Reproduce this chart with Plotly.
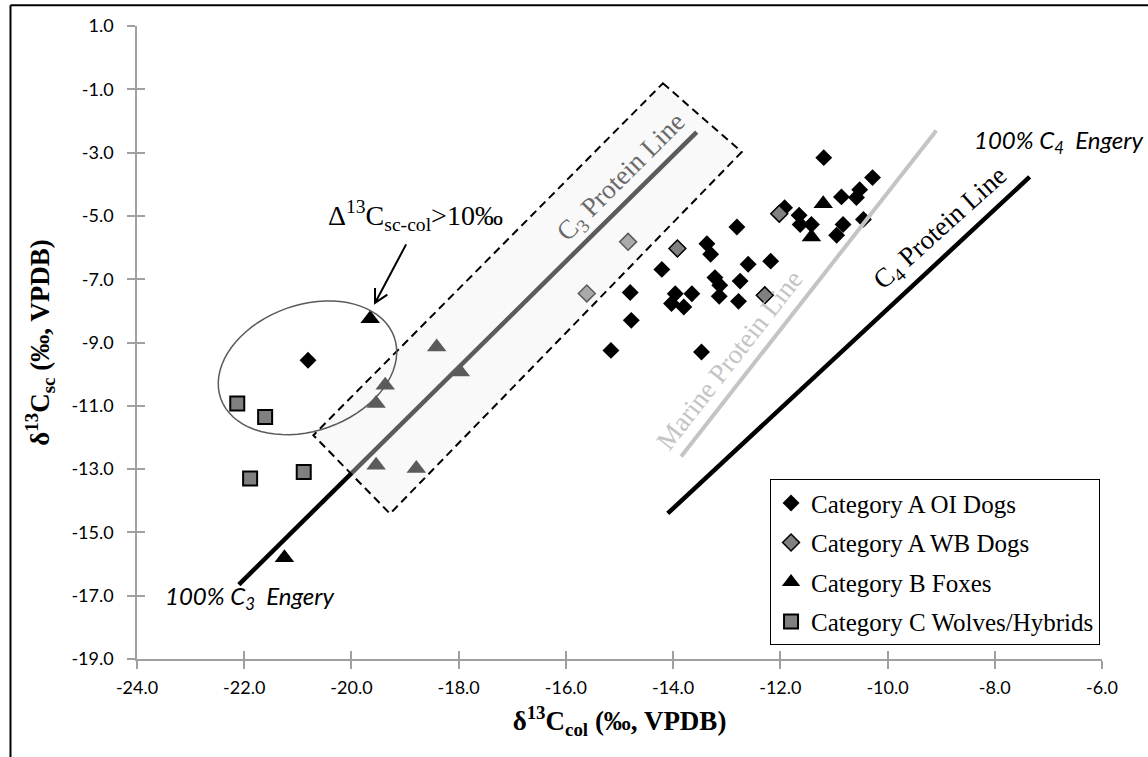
import numpy as np
import plotly.graph_objects as go

# ---------------- data ----------------
oi_x = [-11.19, -10.28, -10.52, -10.86, -10.58, -11.92, -11.65, -11.63, -11.42, -10.83, -10.95, -10.45,
        -12.81, -13.37, -13.30, -14.21, -12.60, -12.18, -13.22, -12.75, -13.13, -13.14, -12.78,
        -14.80, -13.96, -13.65, -14.03, -13.80, -14.78, -15.16, -13.47, -20.81]
oi_y = [-3.16, -3.79, -4.17, -4.40, -4.42, -4.74, -4.98, -5.27, -5.27, -5.27, -5.61, -5.11,
        -5.35, -5.88, -6.21, -6.69, -6.53, -6.43, -6.95, -7.06, -7.19, -7.54, -7.70,
        -7.42, -7.46, -7.46, -7.77, -7.88, -8.30, -9.25, -9.30, -9.56]

wb_x = [-14.84, -13.92, -15.61, -12.29, -12.02]
wb_y = [-5.82, -6.03, -7.45, -7.51, -4.93]

fox_x = [-19.65, -18.41, -17.97, -19.37, -19.54, -19.54, -18.79, -21.25, -11.20, -11.42]
fox_y = [-8.25, -9.14, -9.93, -10.35, -10.93, -12.88, -12.98, -15.80, -4.62, -5.67]

wolf_x = [-22.13, -21.61, -21.89, -20.89]
wolf_y = [-10.93, -11.35, -13.30, -13.09]

series_names = ["Category A OI Dogs", "Category A WB Dogs", "Category B Foxes", "Category C Wolves/Hybrids"]

c3_line_x = [-22.10, -13.56]
c3_line_y = [-16.65, -2.35]
marine_line_x = [-13.85, -9.09]
marine_line_y = [-12.60, -2.30]
c4_line_x = [-14.10, -7.35]
c4_line_y = [-14.40, -3.77]

x_ticks = [-24, -22, -20, -18, -16, -14, -12, -10, -8, -6]
x_tick_text = ["-24.0", "-22.0", "-20.0", "-18.0", "-16.0", "-14.0", "-12.0", "-10.0", "-8.0", "-6.0"]
y_ticks = [1, -1, -3, -5, -7, -9, -11, -13, -15, -17, -19]
y_tick_text = ["1.0", "-1.0", "-3.0", "-5.0", "-7.0", "-9.0", "-11.0", "-13.0", "-15.0", "-17.0", "-19.0"]

# ---------------- figure ----------------
SERIF = "Liberation Serif, Times New Roman, serif"
SANS = "Lato, Carlito, sans-serif"
AXIS_GRAY = "#a0a0a0"
fig = go.Figure()

fig.add_trace(go.Scatter(x=oi_x, y=oi_y, mode="markers", name=series_names[0], legendgroup="a",
                         marker=dict(symbol="diamond", size=13, color="black", line=dict(width=0))))
fig.add_trace(go.Scatter(x=wb_x, y=wb_y, mode="markers", name=series_names[1], legendgroup="b",
                         marker=dict(symbol="diamond", size=13, color="#808080", line=dict(width=1.5, color="black"))))
fig.add_trace(go.Scatter(x=fox_x, y=fox_y, mode="markers", name=series_names[2], legendgroup="c",
                         marker=dict(symbol="triangle-up", size=17, color="black", line=dict(width=0))))
fig.add_trace(go.Scatter(x=wolf_x, y=wolf_y, mode="markers", name=series_names[3], legendgroup="d",
                         marker=dict(symbol="square", size=14, color="#808080", line=dict(width=2, color="black"))))

fig.add_trace(go.Scatter(x=c3_line_x, y=c3_line_y, mode="lines", line=dict(color="black", width=4.5), showlegend=False))
fig.add_trace(go.Scatter(x=marine_line_x, y=marine_line_y, mode="lines", line=dict(color="#c4c4c4", width=4), showlegend=False))
fig.add_trace(go.Scatter(x=c4_line_x, y=c4_line_y, mode="lines", line=dict(color="black", width=4.5), showlegend=False))

# helper trace for the inner half of the crossing ticks
fig.add_trace(go.Scatter(x=[None], y=[None], xaxis="x2", yaxis="y2", showlegend=False, hoverinfo="skip"))

# dashed translucent box around the C3 protein line
box_x = [-14.19, -12.72, -19.28, -20.71]
box_y = [-0.81, -2.98, -14.41, -11.93]
box_path = "M {} {} L {} {} L {} {} L {} {} Z".format(box_x[0], box_y[0], box_x[1], box_y[1],
                                                       box_x[2], box_y[2], box_x[3], box_y[3])
fig.add_shape(type="path", path=box_path, xref="x", yref="y", layer="above",
              fillcolor="rgba(239,239,239,0.38)", line=dict(color="black", width=2, dash="8px,5px"))

# ellipse around the outliers
t = np.linspace(0, 2 * np.pi, 73)
ecx, ecy = -20.82, -9.80
ax_vec = (1.618, 0.970)
bx_vec = (0.391, -1.877)
ex = ecx + np.cos(t) * ax_vec[0] + np.sin(t) * bx_vec[0]
ey = ecy + np.cos(t) * ax_vec[1] + np.sin(t) * bx_vec[1]
ell_path = "M " + " L ".join(f"{a:.4f} {b:.4f}" for a, b in zip(ex, ey)) + " Z"
fig.add_shape(type="path", path=ell_path, xref="x", yref="y", layer="above",
              line=dict(color="#5a5a5a", width=1.5))

# arrow (shaft + open V head) pointing at the ellipse
arrow_tail = (-18.98, -5.90)
arrow_tip = (-19.56, -7.75)
arm1 = (-19.33, -7.485)
arm2 = (-19.56, -7.276)
arrow_path = "M {} {} L {} {} M {} {} L {} {} L {} {}".format(arrow_tail[0], arrow_tail[1], arrow_tip[0], arrow_tip[1],
                                                             arm1[0], arm1[1], arrow_tip[0], arrow_tip[1],
                                                             arm2[0], arm2[1])
fig.add_shape(type="path", path=arrow_path, xref="x", yref="y", layer="above",
              line=dict(color="black", width=2))

# outer chart frame (left and top edges visible)
fig.add_shape(type="line", xref="paper", yref="paper", x0=-0.1311, x1=-0.1311, y0=-0.25, y1=1.0327,
              line=dict(color="black", width=2))
fig.add_shape(type="line", xref="paper", yref="paper", x0=-0.1311, x1=1.1, y0=1.0327, y1=1.0327,
              line=dict(color="black", width=2))

# text annotations
fig.add_annotation(x=-14.95, y=-3.81, xref="x", yref="y", text="C<sub>3</sub> Protein Line", showarrow=False,
                   textangle=-45, font=dict(family=SERIF, size=27, color="#6a6a6a"))
fig.add_annotation(x=-12.95, y=-9.55, xref="x", yref="y", text="Marine Protein Line", showarrow=False,
                   textangle=-52, font=dict(family=SERIF, size=27, color="#c4c4c4"))
fig.add_annotation(x=-9.00, y=-5.42, xref="x", yref="y", text="C<sub>4</sub> Protein Line", showarrow=False,
                   textangle=-42, font=dict(family=SERIF, size=27, color="black"))
fig.add_annotation(x=-6.81, y=-2.64, xref="x", yref="y", text="<i>100% C<sub>4</sub>  Engery</i>", showarrow=False,
                   font=dict(family=SANS, size=24, color="black"))
fig.add_annotation(x=-21.90, y=-17.05, xref="x", yref="y", text="<i>100% C<sub>3</sub>  Engery</i>", showarrow=False,
                   font=dict(family=SANS, size=24, color="black"))
fig.add_annotation(x=-18.81, y=-4.98, xref="x", yref="y", text="Δ<sup>13</sup>C<sub>sc-col</sub>>10‰", showarrow=False,
                   font=dict(family=SERIF, size=28, color="black"))

axis_common = dict(showgrid=False, zeroline=False, showline=True, linecolor=AXIS_GRAY, linewidth=1.5,
                   ticks="outside", ticklen=8, tickwidth=1.5, tickcolor=AXIS_GRAY,
                   tickfont=dict(family=SANS, size=18, color="black"))

fig.update_layout(
    width=1148, height=757,
    margin=dict(l=136.6, r=45.7, t=25.7, b=98.3, autoexpand=False),
    paper_bgcolor="white", plot_bgcolor="white",
    xaxis=dict(range=[-24, -6], tickvals=x_ticks, ticktext=x_tick_text, ticklabelstandoff=4, **axis_common,
               title=dict(text="<b>δ<sup>13</sup>C<sub>col</sub> (‰, VPDB)</b>", standoff=14,
                          font=dict(family=SERIF, size=27, color="black"))),
    yaxis=dict(range=[-19, 1], tickvals=y_ticks, ticktext=y_tick_text, ticklabelstandoff=10, **axis_common,
               title=dict(text="<b>δ<sup>13</sup>C<sub>sc</sub> (‰, VPDB)</b>", standoff=14,
                          font=dict(family=SERIF, size=27, color="black"))),
    xaxis2=dict(range=[-24, -6], overlaying="x", anchor="y2", side="bottom", tickvals=x_ticks,
                showticklabels=False, showgrid=False, zeroline=False, showline=False,
                ticks="inside", ticklen=8, tickwidth=1.5, tickcolor=AXIS_GRAY),
    yaxis2=dict(range=[-19, 1], overlaying="y", anchor="x2", side="left", tickvals=y_ticks,
                showticklabels=False, showgrid=False, zeroline=False, showline=False,
                ticks="inside", ticklen=8, tickwidth=1.5, tickcolor=AXIS_GRAY),
    legend=dict(x=0.656, y=0.284, xanchor="left", yanchor="top", bgcolor="white",
                bordercolor="black", borderwidth=1, tracegroupgap=4,
                font=dict(family=SERIF, size=25, color="black")),
    showlegend=True,
)

fig.write_html("out.html")
